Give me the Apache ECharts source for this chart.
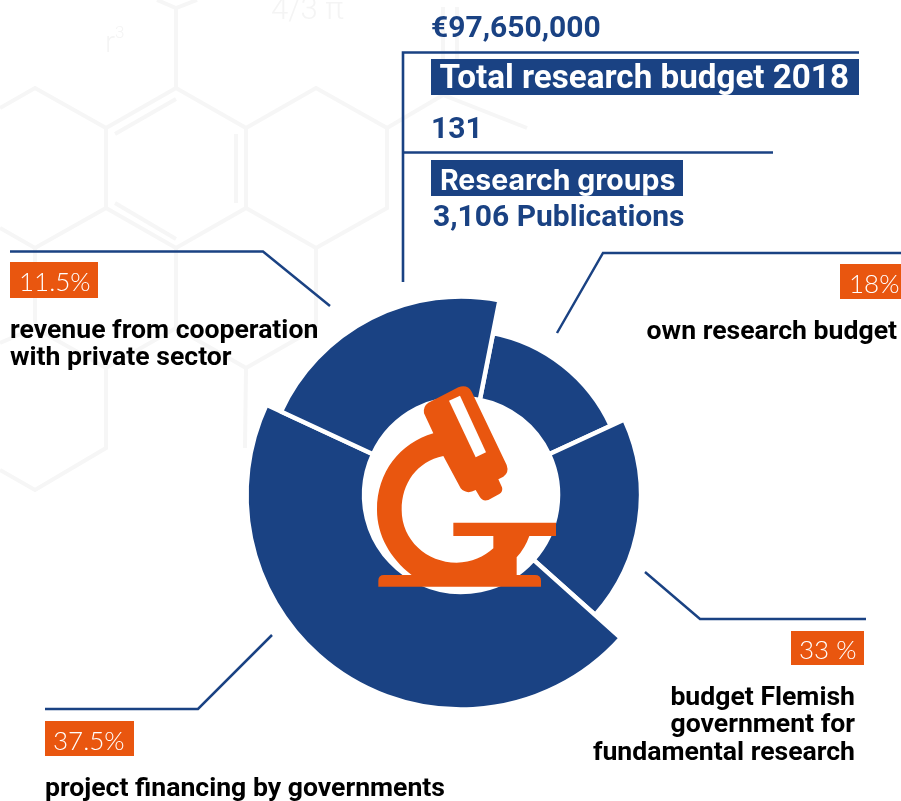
<!DOCTYPE html>
<html>
<head>
<meta charset="utf-8">
<style>html,body{margin:0;padding:0;background:#fff}#c{width:901px;height:801px}</style>
<script src="https://cdn.jsdelivr.net/npm/echarts@6/dist/echarts.min.js"></script>
</head>
<body>
<div id="c"></div>
<script>
// ---- data ----
const sliceNames = ['own research budget', 'budget Flemish government for fundamental research', 'project financing by governments', 'revenue from cooperation with private sector'];
const sliceLabels = ['18%', '33 %', '37.5%', '11.5%'];
const sliceDrawnShares = [15, 18.5, 45.3, 21.2];     // share of the circle each wedge covers as drawn
const headlineTexts = ['€97,650,000', 'Total research budget 2018', '131', 'Research groups', '3,106 Publications'];

// ---- layout and style ----
const BLUE = '#1A4283', ORANGE = '#E9560F', GHOST = '#F6F6F6';
const center = [461, 495];
const innerR = 97, outerR = [165, 180, 214.5, 198.5];
const firstAngle = 11.2, gapW = 4.5;

const total = sliceDrawnShares.reduce((a, b) => a + b, 0);
let cursor = firstAngle;
const series = sliceDrawnShares.map((v, i) => {
  const s = {
    type: 'pie', center, radius: [innerR, outerR[i]], startAngle: 90 - cursor, clockwise: true,
    silent: true, animation: false, label: { show: false }, labelLine: { show: false },
    emphasis: { disabled: true }, z: 2 + i,
    data: [
      { value: v, name: sliceNames[i], itemStyle: { color: BLUE, borderColor: '#fff', borderWidth: gapW } },
      { value: total - v, name: '', itemStyle: { color: 'rgba(0,0,0,0)', borderWidth: 0 } }
    ]
  };
  cursor += v / total * 360;
  return s;
});

// ---- decoration helpers ----
const g = [];
const line = (pts, color, w, z) => g.push({ type: 'polyline', z, shape: { points: pts }, style: { stroke: color, lineWidth: w, fill: null, lineJoin: 'miter' }, silent: true });
const rect = (x, y, w, h, fill) => g.push({ type: 'rect', z: 5, shape: { x, y, width: w, height: h }, style: { fill }, silent: true });
const text = (t, x, y, font, fill, align, z) => g.push({ type: 'text', z: z || 6, x, y, style: { text: t, font, fill, textAlign: align || 'left', textVerticalAlign: 'middle' }, silent: true });

// faint molecule backdrop
const hexLines = [
  [[0,108],[35,88],[106,128],[106,208],[35,248],[0,228]],
  [[106,128],[176,88],[246,128],[246,208],[176,248],[106,208]],
  [[246,128],[316,88],[387,128],[387,208],[316,248],[246,208]],
  [[387,128],[443,95],[527,128]],
  [[176,88],[176,7]], [[157,0],[176,8],[197,0]],
  [[443,95],[443,7]], [[457,7],[457,95]],
  [[115,134],[176,99]], [[115,203],[176,239]], [[236,134],[236,203]],
  [[35,248],[35,328]], [[176,248],[176,328]], [[316,248],[316,328]],
  [[0,343],[35,328],[106,368],[106,448],[35,490],[0,470]],
  [[106,368],[176,328],[246,368],[245,448]],
  [[246,368],[316,328]]
];
hexLines.forEach(p => line(p, GHOST, 4, 0));
text('r', 105, 44, '300 30px Roboto', '#F4F4F4', 'left', 1);
text('3', 115, 34, '300 17px Roboto', '#F4F4F4', 'left', 1);
text('4/3 π', 271, 11, '300 31px Roboto', '#F4F4F4', 'left', 1);

// headline block
line([[403, 282], [403, 52.5], [859, 52.5]], BLUE, 2.6, 5);
line([[403, 152.5], [773, 152.5]], BLUE, 2.6, 5);
text(headlineTexts[0], 431, 29, '700 30px Roboto', BLUE);
rect(431, 59, 428, 36, BLUE);
text(headlineTexts[1], 439.5, 80, '700 33.2px Roboto', '#fff');
text(headlineTexts[2], 431, 130, '700 30px Roboto', BLUE);
rect(431, 160, 252, 36, BLUE);
text(headlineTexts[3], 440, 181, '700 28.5px Inter', '#fff');
text(headlineTexts[4], 433, 218, '700 30px Roboto', BLUE);

// leader lines
line([[10, 251.5], [263, 251.5], [330, 306]], BLUE, 2.5, 5);
line([[557, 333], [603, 253], [901, 253]], BLUE, 2.5, 5);
line([[645, 572], [700, 619], [866, 619]], BLUE, 2.5, 5);
line([[272, 635], [198, 709], [45, 709]], BLUE, 2.5, 5);

// tags and captions
const tagFont = '300 26px Lato', capFont = '700 26.6px Roboto';
rect(10, 262, 88, 36, ORANGE);  text(sliceLabels[3], 19, 283, tagFont, '#fff');
rect(840, 264, 61, 35, ORANGE); text(sliceLabels[0], 849, 285, tagFont, '#fff');
rect(791, 631, 73, 34, ORANGE); text(sliceLabels[1], 799, 651, tagFont, '#fff');
rect(45, 721, 89, 35, ORANGE);  text(sliceLabels[2], 53, 742, tagFont, '#fff');

text('revenue from cooperation', 10, 331, capFont, '#000');
text('with private sector', 10, 358, capFont, '#000');
text('own research budget', 897, 332, capFont, '#000', 'right');
text('budget Flemish', 855, 698, capFont, '#000', 'right');
text('government for', 855, 725, capFont, '#000', 'right');
text('fundamental research', 855, 753, capFont, '#000', 'right');
text('project financing by governments', 45, 789, capFont, '#000');

// microscope icon, outlined in 3x units and placed over the ring
echarts.graphic.registerShape('microscope', echarts.graphic.extendPath(
  'M610 460L582 400Q578 380 595 368L685 322Q712 312 725 335L830 555Q838 578 820 590L805 598L816 622Q820 635 808 642L775 660Q758 665 750 652L737 630Q710 645 692 625L640 528C560 545 515 610 515 690C515 780 590 848 680 848C725 848 762 830 790 805L790 768L670 768L670 728L978 728L978 768L898 768Q885 805 860 832L860 885L915 885Q933 885 933 902L933 920L445 920L445 902Q445 885 462 885L545 885C480 835 441 765 441 690C441 575 510 490 610 460Z', {}));
const icon = { x: 230, y: 280, scaleX: 1 / 3, scaleY: 1 / 3, silent: true };
g.push(Object.assign({ type: 'microscope', z: 20, style: { fill: ORANGE } }, icon));
g.push(Object.assign({ type: 'polygon', z: 21, shape: { points: [[657,362],[690,347],[768,517],[737,532]] }, style: { fill: '#fff' } }, icon));

const chart = echarts.init(document.getElementById('c'), null, { renderer: 'canvas' });
chart.setOption({ backgroundColor: '#fff', animation: false, series, graphic: { elements: g } });
</script>
</body>
</html>
